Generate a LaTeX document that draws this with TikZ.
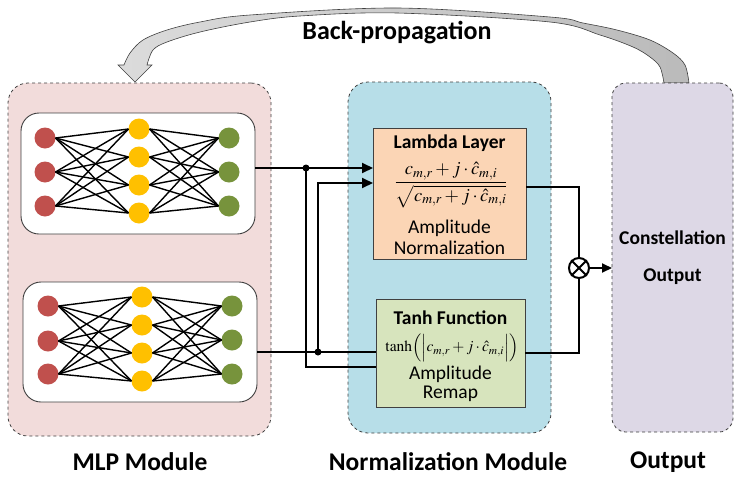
\documentclass[tikz,border=0pt]{standalone}
\usepackage{amsmath}
\usepackage{mathptmx}
\usepackage{fontspec}
\setmainfont{Carlito}
\usetikzlibrary{arrows.meta}
\definecolor{pinkbg}{HTML}{F2DCDB}
\definecolor{bluebg}{HTML}{B7DEE8}
\definecolor{purplebg}{HTML}{DDD8E6}
\definecolor{peach}{HTML}{FBD5B5}
\definecolor{lgreen}{HTML}{D7E4BD}
\definecolor{nred}{HTML}{C0504D}
\definecolor{nyellow}{HTML}{FFC000}
\definecolor{ngreen}{HTML}{77933C}
\definecolor{edgegray}{HTML}{404040}
\tikzset{
  module/.style={draw=edgegray, dashed, line width=0.8pt, rounded corners=20pt, inner sep=0pt, outer sep=0pt},
  nnbox/.style={draw=edgegray, line width=0.9pt, fill=white, rounded corners=18pt, inner sep=0pt, outer sep=0pt},
  fbox/.style={draw=edgegray, line width=1pt, inner sep=0pt, outer sep=0pt},
  neuron/.style={circle, inner sep=0pt, minimum size=21pt, outer sep=0pt},
  syn/.style={line width=1.4pt, black},
  wire/.style={line width=2pt, black},
  arr/.style={-{Triangle[length=11pt,width=10pt]}},
  dot/.style={circle, fill=black, inner sep=0pt, minimum size=7pt},
  txt/.style={inner sep=0.5pt},
  title/.style={txt, font=\bfseries\fontsize{19.5}{21}\selectfont},
  body/.style={txt, font=\fontsize{19.5}{21}\selectfont},
  big/.style={txt, font=\bfseries\fontsize{25.5}{27}\selectfont},
}
\begin{document}
\begin{tikzpicture}[x=1pt,y=-1pt]
\useasboundingbox (0,0) rectangle (747,477);

% back-propagation arrow
\path[draw=edgegray, line width=0.6pt, left color=black!14, right color=black!27]
  plot[smooth, tension=0.55] coordinates {(689,83) (685,65) (673,53) (650,40) (617,30) (583,23) (550,17) (397,8) (250,15) (200,22) (167,30) (143,40) (130,53) (124,65)}
  -- (118,65) -- (135,82) -- (152,65) -- (147,65)
  -- plot[smooth, tension=0.55] coordinates {(147,65) (153,50) (167,42) (200,32) (250,22) (300,16) (397,13) (550,22) (600,35) (633,47) (650,57) (660,67) (664,83)}
  -- cycle;
\node[font=\bfseries\fontsize{26}{28}\selectfont, inner sep=0.5pt] (bp) at (397,33) {Back-propagation};

% modules
\node[module, fill=pinkbg, minimum width=263pt, minimum height=353pt] (mlp) at (139.5,259.5) {};
\node[module, fill=bluebg, minimum width=203pt, minimum height=351pt] (norm) at (449.5,257.5) {};
\node[module, fill=purplebg, minimum width=121pt, minimum height=349pt, rounded corners=14pt] (outbox) at (672.5,257.5) {};

% NN boxes
\node[nnbox, minimum width=234pt, minimum height=121pt] (nn1) at (138,173.5) {};
\node[nnbox, minimum width=234pt, minimum height=120pt] (nn2) at (140,342) {};

% NN 1
\foreach \i/\y in {1/138,2/172,3/206} \node[neuron, fill=nred] (a\i) at (45,\y) {};
\foreach \i/\y in {1/129,2/157,3/185,4/213} \node[neuron, fill=nyellow] (b\i) at (139,\y) {};
\foreach \i/\y in {1/138,2/172,3/206} \node[neuron, fill=ngreen] (c\i) at (229,\y) {};
\foreach \i in {1,2,3} \foreach \j in {1,2,3,4} {
  \draw[syn] (a\i.east) -- (b\j.west);
  \draw[syn] (b\j.east) -- (c\i.west);
}
% NN 2
\foreach \i/\y in {1/306,2/341,3/374} \node[neuron, fill=nred] (d\i) at (48,\y) {};
\foreach \i/\y in {1/297,2/325,3/353,4/381} \node[neuron, fill=nyellow] (e\i) at (142,\y) {};
\foreach \i/\y in {1/306,2/340,3/374} \node[neuron, fill=ngreen] (f\i) at (232,\y) {};
\foreach \i in {1,2,3} \foreach \j in {1,2,3,4} {
  \draw[syn] (d\i.east) -- (e\j.west);
  \draw[syn] (e\j.east) -- (f\i.west);
}

% function boxes
\node[fbox, fill=peach, minimum width=153pt, minimum height=131pt] (lam) at (449.5,193.5) {};
\node[title] (lamt) at (449.5,143) {Lambda Layer};
\node[txt, font=\fontsize{18.5}{20}\selectfont] (lamf) at (451,185) {$\dfrac{c_{m,r}+j\cdot\hat{c}_{m,i}}{\sqrt{c_{m,r}+j\cdot\hat{c}_{m,i}}}$};
\node[body] (lam1) at (449.5,228) {Amplitude};
\node[body] (lam2) at (449.5,248) {Normalization};

\node[fbox, fill=lgreen, minimum width=149pt, minimum height=108pt] (th) at (450.5,353) {};
\node[title] (tht) at (450.5,318) {Tanh Function};
\node[txt, font=\fontsize{15.5}{17}\selectfont] (thf) at (452,348) {$\tanh\Bigl(\Bigl|c_{m,r}+j\cdot\hat{c}_{m,i}\Bigr|\Bigr)$};
\node[body] (th1) at (450.5,374) {Amplitude};
\node[body] (th2) at (450.5,394) {Remap};

% wiring
\coordinate (j1) at (306,168);
\coordinate (j2) at (318,352);
\coordinate (k1) at (306,367);
\coordinate (k2) at (318,183);
\draw[wire, arr] (nn1.east |- j1) -- (lam.west |- j1);
\draw[wire] (nn2.east |- j2) -- (th.west |- j2);
\draw[wire] (j1) -- (k1) -- (th.west |- k1);
\draw[wire, arr] (j2) -- (k2) -- (lam.west |- k2);
\node[dot] (dj1) at (j1) {};
\node[dot] (dj2) at (j2) {};

\node[circle, draw, line width=2pt, minimum size=20pt, inner sep=0pt] (ot) at (579,268) {};
\draw[line width=2pt] (ot.north west) -- (ot.south east);
\draw[line width=2pt] (ot.north east) -- (ot.south west);
\coordinate (l1) at (579,187);
\coordinate (t1) at (579,353);
\draw[wire] (lam.east |- l1) -- (l1) -- (ot.north);
\draw[wire] (th.east |- t1) -- (t1) -- (ot.south);
\draw[wire, -{Triangle[length=10pt,width=9pt]}] (ot.east) -- (outbox.west |- ot);

% output text
\node[title] (co1) at (672.5,238) {Constellation};
\node[title] (co2) at (672.5,277) {Output};

% module labels
\node[big] (lb1) at (140,462) {MLP Module};
\node[big] (lb2) at (448,462) {Normalization Module};
\node[big] (lb3) at (668,462) {Output};
\end{tikzpicture}
\end{document}
